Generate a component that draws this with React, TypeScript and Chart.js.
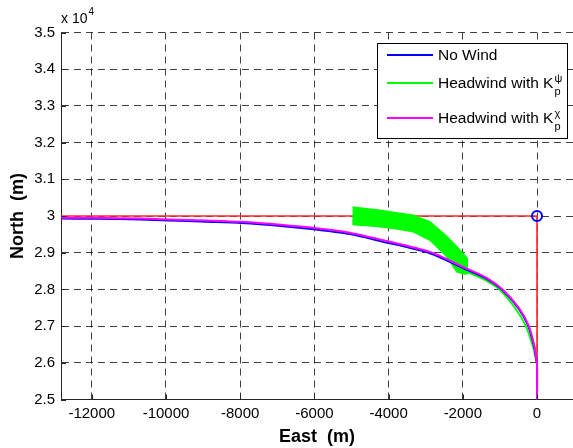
import React, { useEffect, useRef } from 'react';
import { Chart, registerables } from 'chart.js';

Chart.register(...registerables);

// ---- axes ----
const xMin = -12830;
const xMax = 970;
const yMin = 25000;
const yMax = 35000;
const xTicks = [-12000, -10000, -8000, -6000, -4000, -2000, 0];
const yTicks = [25000, 26000, 27000, 28000, 29000, 30000, 31000, 32000, 33000, 34000, 35000];
const xTitle = 'East  (m)';
const yTitle = 'North  (m)';
const expBase = 'x 10';
const expPow = '4';

// ---- series: No Wind (blue) ----
const noWindX = [0, 0, -30, -80, -235, -510, -950, -1430, -1975, -2870, -4230, -5040, -5940, -6900, -7960, -8900, -9920, -10700, -11850, -13000];
const noWindY = [25000, 25950, 26150, 26450, 27000, 27500, 28000, 28330, 28570, 28980, 29320, 29510, 29630, 29730, 29810, 29845, 29880, 29905, 29925, 29930];

// ---- series: Headwind with K_p^chi (magenta) ----
const chiX = [0, 0, -25, -70, -220, -490, -930, -1410, -1955, -2870, -4230, -5040, -5940, -6900, -7960, -8900, -9920, -10700, -11850, -13000];
const chiY = [25000, 25950, 26150, 26450, 27000, 27500, 28000, 28340, 28595, 29015, 29360, 29545, 29665, 29760, 29840, 29875, 29905, 29930, 29950, 29955];

// ---- series: Headwind with K_p^psi (green), smooth part ----
const psiX = [0, 0, -40, -110, -300, -580, -1010, -1480, -1950];
const psiY = [25000, 25950, 26150, 26450, 27000, 27480, 28000, 28300, 28500];

// ---- green oscillation band edges (K_p^psi) ----
const bandTopX = [-4960, -4950, -4600, -4230, -3800, -3330, -2880, -2430, -2160, -1880];
const bandTopY = [29760, 30240, 30200, 30160, 30090, 30020, 29840, 29440, 29160, 28850];
const bandBottomX = [-1880, -1960, -2160, -2430, -2880, -3330, -3800, -4230, -4600, -4960];
const bandBottomY = [28430, 28420, 28480, 28890, 29340, 29570, 29650, 29710, 29740, 29760];

// ---- reference path (red) and target (blue circle) ----
const refX = [-13000, 0, 0];
const refY = [30000, 30000, 25000];
const targetX = [0];
const targetY = [30000];

// ---- legend ----
const legendText = ['No Wind', 'Headwind with K', 'Headwind with K'];
const legendSup = ['', 'ψ', 'χ'];
const legendSub = ['', 'p', 'p'];
const legendColors = ['#0000ff', '#00ff00', '#ff00ff'];

const FONT = '"Liberation Sans", Arial, Helvetica, sans-serif';

const pts = (xs: number[], ys: number[]) => xs.map((x, i) => ({ x, y: ys[i] }));

const overlayPlugin = {
  id: 'overlay',
  afterDraw(chart: any) {
    const { ctx, chartArea, scales } = chart;
    const xs = scales.x;
    const ys = scales.y;
    ctx.save();
    // inward tick marks
    ctx.strokeStyle = '#262626';
    ctx.lineWidth = 1;
    ctx.setLineDash([]);
    ctx.beginPath();
    for (const v of xTicks) {
      const px = Math.round(xs.getPixelForValue(v)) + 0.5;
      ctx.moveTo(px, chartArea.bottom);
      ctx.lineTo(px, chartArea.bottom - 5);
    }
    for (const v of yTicks) {
      const py = Math.round(ys.getPixelForValue(v)) + 0.5;
      ctx.moveTo(chartArea.left, py);
      ctx.lineTo(chartArea.left + 5, py);
    }
    ctx.stroke();

    // exponent label
    ctx.fillStyle = '#000';
    ctx.textAlign = 'left';
    ctx.textBaseline = 'alphabetic';
    ctx.font = `14px ${FONT}`;
    ctx.fillText(expBase, chartArea.left, 23);
    const w = ctx.measureText(expBase).width;
    ctx.font = `10px ${FONT}`;
    ctx.fillText(expPow, chartArea.left + w + 1, 15);

    // legend box
    const bx = 377, by = 43, bw = 190, bh = 95;
    ctx.fillStyle = '#fff';
    ctx.fillRect(bx, by, bw, bh);
    ctx.strokeStyle = '#000';
    ctx.lineWidth = 1;
    ctx.strokeRect(bx + 0.5, by + 0.5, bw, bh);
    const rows = [55, 83, 118];
    for (let i = 0; i < legendText.length; i++) {
      const ry = rows[i];
      ctx.strokeStyle = legendColors[i];
      ctx.lineWidth = 2;
      ctx.beginPath();
      ctx.moveTo(387, ry);
      ctx.lineTo(433, ry);
      ctx.stroke();
      ctx.fillStyle = '#000';
      ctx.font = `15.5px ${FONT}`;
      ctx.textBaseline = 'alphabetic';
      const base = ry + 5;
      ctx.fillText(legendText[i], 438, base);
      if (legendSup[i] || legendSub[i]) {
        const tw = ctx.measureText(legendText[i]).width;
        ctx.font = `11px ${FONT}`;
        ctx.fillText(legendSup[i], 438 + tw + 1, base - 6);
        ctx.fillText(legendSub[i], 438 + tw + 1, base + 7);
      }
    }
    ctx.restore();
  },
};

export default function App() {
  const ref = useRef<HTMLCanvasElement | null>(null);
  useEffect(() => {
    if (!ref.current) return;
    Chart.defaults.font.family = FONT;
    const chart = new Chart(ref.current, {
      type: 'scatter',
      data: {
        datasets: [
          {
            label: 'target',
            data: pts(targetX, targetY),
            showLine: false,
            pointRadius: 5,
            pointBorderWidth: 2,
            pointBorderColor: '#0000ff',
            pointBackgroundColor: 'rgba(0,0,0,0)',
            order: 0,
          },
          {
            label: 'Headwind with K_p^chi',
            data: pts(chiX, chiY),
            showLine: true,
            borderColor: '#ff00ff',
            borderWidth: 2,
            pointRadius: 0,
            tension: 0.25,
            order: 1,
          },
          {
            label: 'No Wind',
            data: pts(noWindX, noWindY),
            showLine: true,
            borderColor: '#0000ff',
            borderWidth: 2,
            pointRadius: 0,
            tension: 0.25,
            order: 2,
          },
          {
            label: 'Headwind with K_p^psi',
            data: pts(psiX, psiY),
            showLine: true,
            borderColor: '#00ff00',
            borderWidth: 2,
            pointRadius: 0,
            tension: 0.25,
            order: 3,
          },
          {
            label: 'psi band',
            data: [...pts(bandTopX, bandTopY), ...pts(bandBottomX, bandBottomY)],
            showLine: true,
            borderColor: '#00ff00',
            backgroundColor: '#00ff00',
            borderWidth: 1.5,
            fill: 'shape',
            pointRadius: 0,
            tension: 0,
            order: 4,
          },
          {
            label: 'reference',
            data: pts(refX, refY),
            showLine: true,
            borderColor: '#ff2a2a',
            borderWidth: 1.7,
            pointRadius: 0,
            tension: 0,
            order: 5,
          },
        ],
      },
      options: {
        animation: false,
        responsive: false,
        events: [],
        layout: { autoPadding: false, padding: { top: 32.5, left: 0, right: 0, bottom: 0 } },
        plugins: { legend: { display: false }, tooltip: { enabled: false } },
        scales: {
          x: {
            type: 'linear',
            min: xMin,
            max: xMax,
            afterBuildTicks: (s: any) => {
              s.ticks = xTicks.map((v) => ({ value: v }));
            },
            afterFit: (s: any) => {
              s.height = 48.5;
            },
            ticks: {
              color: '#000',
              font: { size: 15 },
              padding: 5,
              maxRotation: 0,
              autoSkip: false,
              callback: (v: any) => String(v),
            },
            grid: { color: 'rgba(0,0,0,0.75)', lineWidth: 1, drawTicks: false },
            border: { display: true, color: '#262626', width: 1, dash: [7, 5] },
            title: {
              display: true,
              text: xTitle,
              color: '#000',
              font: { size: 18, weight: 'bold' },
              padding: { top: 0, bottom: 0 },
            },
          },
          y: {
            type: 'linear',
            min: yMin,
            max: yMax,
            afterBuildTicks: (s: any) => {
              s.ticks = yTicks.map((v) => ({ value: v }));
            },
            afterFit: (s: any) => {
              s.width = 61;
            },
            ticks: {
              color: '#000',
              font: { size: 15 },
              padding: 6,
              autoSkip: false,
              callback: (v: any) => String(Number((Number(v) / 10000).toFixed(1))),
            },
            grid: { color: 'rgba(0,0,0,0.75)', lineWidth: 1, drawTicks: false },
            border: { display: true, color: '#262626', width: 1, dash: [7, 5] },
            title: {
              display: true,
              text: yTitle,
              color: '#000',
              font: { size: 18, weight: 'bold' },
              padding: { top: 7.5, bottom: 0 },
            },
          },
        },
      },
      plugins: [overlayPlugin],
    } as any);
    return () => chart.destroy();
  }, []);
  return (
    <div style={{ position: 'absolute', left: 0, top: 0, width: 573, height: 448 }}>
      <canvas ref={ref} width={573} height={448} style={{ display: 'block' }} />
    </div>
  );
}
